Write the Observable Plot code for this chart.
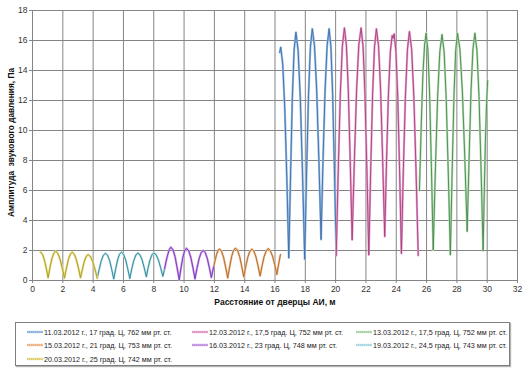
<!DOCTYPE html>
<html><head><meta charset="utf-8">
<script src="https://cdn.jsdelivr.net/npm/d3@7"></script>
<script src="https://cdn.jsdelivr.net/npm/@observablehq/plot@0.6"></script>
<style>
body{margin:0;background:#fff;font-family:Arial,"Liberation Sans",sans-serif;}
#chart{position:absolute;left:0;top:0;}
#legend{position:absolute;left:15px;top:322px;width:495px;height:44px;border:1px solid #7f7f7f;box-shadow:1px 1px 1px #b0b0b0;box-sizing:border-box;background:#fff;}
.item{position:absolute;font-size:7.2px;color:#222;white-space:nowrap;display:flex;align-items:center;height:10px;}
.item svg{margin-right:1px;}
</style></head><body>
<div id="chart"></div><div id="legend"></div>
<script>
const xTicks = [0,2,4,6,8,10,12,14,16,18,20,22,24,26,28,30,32];
const yTicks = [0,2,4,6,8,10,12,14,16,18];
const seriesNames = [
  "11.03.2012 г., 17 град. Ц, 762 мм рт. ст.",
  "12.03.2012 г., 17,5 град. Ц, 752 мм рт. ст.",
  "13.03.2012 г., 17,5 град. Ц, 752 мм рт. ст.",
  "15.03.2012 г., 21 град. Ц, 753 мм рт. ст.",
  "16.03.2012 г., 23 град. Ц, 748 мм рт. ст.",
  "19.03.2012 г., 24,5 град. Ц, 743 мм рт. ст.",
  "20.03.2012 г., 25 град. Ц, 742 мм рт. ст."
];
const coreColors  = ["#3c6da6","#a3407b","#4a874c","#a5662a","#7636b3","#2d7c8c","#a29c24"];
const lightColors = ["#9cc0e8","#eba2d0","#b6dfb6","#f5c296","#cf9fee","#b9e3ee","#ecdc86"];

const s1103 = [[16.31,15.2],[16.38,15.55],[16.51,14.43],[16.645,11.48],[16.78,6.84],[16.91,1.5],[17.03,7.22],[17.145,12.19],[17.26,15.35],[17.38,16.55],[17.525,15.34],[17.67,12.16],[17.815,7.17],[17.96,1.42],[18.085,7.26],[18.21,12.33],[18.335,15.55],[18.46,16.78],[18.605,15.66],[18.75,12.71],[18.895,8.07],[19.04,2.73],[19.17,8.07],[19.305,12.71],[19.44,15.66],[19.57,16.78],[19.69,15.57],[19.805,12.40],[19.92,7.41],[20.04,1.67]];
const s1203 = [[20.04,1.67],[20.175,7.43],[20.31,12.44],[20.445,15.63],[20.58,16.84],[20.71,15.71],[20.835,12.74],[20.96,8.08],[21.09,2.71],[21.24,8.08],[21.385,12.74],[21.53,15.71],[21.68,16.84],[21.81,15.63],[21.935,12.45],[22.06,7.45],[22.19,1.7],[22.315,7.43],[22.44,12.41],[22.565,15.57],[22.69,16.78],[22.83,15.67],[22.965,12.76],[23.10,8.19],[23.24,2.93],[23.36,8.02],[23.485,12.44],[23.61,15.26],[23.73,16.33],[23.79,16.15],[23.86,16.44],[23.98,15.27],[24.10,12.19],[24.22,7.36],[24.34,1.8],[24.47,7.42],[24.605,12.31],[24.74,15.42],[24.87,16.6],[25.015,15.41],[25.16,12.27],[25.305,7.34],[25.45,1.67]];
const s1303 = [[25.53,6.0],[25.65,10.4],[25.76,13.8],[25.87,15.7],[25.97,16.49],[26.09,15.33],[26.205,12.30],[26.32,7.53],[26.44,2.04],[26.585,7.50],[26.73,12.24],[26.875,15.25],[27.02,16.4],[27.16,15.22],[27.295,12.14],[27.43,7.29],[27.57,1.7],[27.69,7.32],[27.805,12.2],[27.92,15.31],[28.04,16.49],[28.2,15.43],[28.36,12.66],[28.52,8.29],[28.68,3.27],[28.81,8.29],[28.935,12.66],[29.06,15.43],[29.19,16.49],[29.325,15.33],[29.46,12.28],[29.595,7.49],[29.73,1.98],[29.81,6.0],[29.88,9.2],[29.96,11.8],[30.03,13.33]];
const s1503 = [[11.95,0.9],[12.05,1.35],[12.15,1.75],[12.24,2.0],[12.33,2.11],[12.47,1.95],[12.605,1.55],[12.74,0.91],[12.88,0.17],[13.01,0.93],[13.135,1.58],[13.26,2.0],[13.39,2.16],[13.53,2.01],[13.665,1.60],[13.80,0.97],[13.94,0.24],[14.07,0.94],[14.205,1.55],[14.34,1.94],[14.47,2.09],[14.61,1.95],[14.745,1.57],[14.88,0.98],[15.02,0.3],[15.15,1.0],[15.285,1.6],[15.42,1.98],[15.55,2.13],[15.69,1.99],[15.835,1.63],[15.98,1.06],[16.12,0.4],[16.2,0.85],[16.28,1.3],[16.36,1.73]];
const s1603 = [[8.7,0.7],[8.82,1.3],[8.93,1.75],[9.03,2.07],[9.13,2.22],[9.27,2.05],[9.405,1.59],[9.54,0.87],[9.68,0.05],[9.80,0.85],[9.92,1.54],[10.04,1.98],[10.16,2.15],[10.30,1.99],[10.44,1.56],[10.58,0.89],[10.72,0.11],[10.855,0.83],[10.99,1.45],[11.125,1.85],[11.26,2.0],[11.395,1.86],[11.53,1.48],[11.665,0.88],[11.8,0.2],[11.95,0.9]];
const s1903 = [[4.27,0.16],[4.41,0.79],[4.545,1.34],[4.68,1.69],[4.82,1.82],[4.955,1.68],[5.09,1.32],[5.225,0.75],[5.36,0.1],[5.49,0.78],[5.615,1.37],[5.74,1.75],[5.87,1.89],[6.01,1.75],[6.145,1.38],[6.28,0.80],[6.42,0.13],[6.55,0.78],[6.685,1.34],[6.82,1.70],[6.95,1.84],[7.09,1.71],[7.23,1.38],[7.37,0.85],[7.51,0.25],[7.63,0.85],[7.755,1.38],[7.88,1.71],[8.0,1.84],[8.15,1.72],[8.3,1.39],[8.45,0.87],[8.6,0.28],[8.7,0.7]];
const s2003 = [[0.53,1.89],[0.655,1.75],[0.78,1.39],[0.905,0.83],[1.03,0.18],[1.15,0.85],[1.275,1.44],[1.40,1.81],[1.52,1.95],[1.67,1.81],[1.815,1.43],[1.96,0.84],[2.11,0.16],[2.24,0.82],[2.365,1.39],[2.49,1.75],[2.62,1.89],[2.76,1.75],[2.895,1.39],[3.03,0.83],[3.17,0.18],[3.295,0.77],[3.42,1.28],[3.545,1.61],[3.67,1.73],[3.82,1.60],[3.97,1.27],[4.12,0.76],[4.27,0.16]];

const seriesValues = [s1103, s1203, s1303, s1503, s1603, s1903, s2003];
const xLabel = "Расстояние от дверцы АИ, м";
const yLabel = "Амплитуда  звукового давления, Па";

const lineMarks = [];
seriesValues.forEach((pts, i) => {
  lineMarks.push(Plot.line(pts, {x: d => d[0], y: d => d[1], stroke: lightColors[i], strokeWidth: 2.2, strokeLinejoin: "round"}));
  lineMarks.push(Plot.line(pts, {x: d => d[0], y: d => d[1], stroke: coreColors[i], strokeWidth: 0.9, strokeLinejoin: "round"}));
});

const chart = Plot.plot({
  width: 524, height: 312,
  marginLeft: 32, marginRight: 7, marginTop: 10, marginBottom: 32,
  style: {fontFamily: "Arial, 'Liberation Sans', sans-serif", fontSize: "8.5px", color: "#333", background: "white"},
  x: {domain: [0, 32]},
  y: {domain: [0, 18]},
  marks: [
    Plot.gridX(xTicks, {stroke: "#858585", strokeOpacity: 1, strokeWidth: 1}),
    Plot.gridY(yTicks, {stroke: "#858585", strokeOpacity: 1, strokeWidth: 1}),
    Plot.frame({stroke: "#858585"}),
    ...lineMarks,
    Plot.axisX({ticks: xTicks, tickSize: 3, tickPadding: 2, stroke: "#858585", label: null}),
    Plot.axisY({ticks: yTicks, tickSize: 3, tickPadding: 2, stroke: "#858585", label: null}),
    Plot.text([xLabel], {frameAnchor: "bottom", dy: 24, fontWeight: "bold", fontSize: 8.5, fill: "#111"}),
    Plot.text([yLabel], {frameAnchor: "left", rotate: -90, textAnchor: "middle", dx: -21, dy: -3, fontWeight: "bold", fontSize: 8.3, fill: "#111"})
  ]
});
document.getElementById("chart").appendChild(chart);

const legend = document.getElementById("legend");
const colLeft = [11, 176, 340];
const rowTop = [4, 17, 31];
seriesNames.forEach((name, i) => {
  const div = document.createElement("div");
  div.className = "item";
  div.style.left = colLeft[i % 3] + "px";
  div.style.top = rowTop[Math.floor(i / 3)] + "px";
  div.innerHTML = `<svg width="16" height="6"><line x1="0" y1="3" x2="16" y2="3" stroke="${lightColors[i]}" stroke-width="2.4"/><line x1="0" y1="3" x2="16" y2="3" stroke="${lightColors[i]}" stroke-width="1" stroke-dasharray="1 1" style="filter:brightness(0.85)"/></svg><span>${name}</span>`;
  legend.appendChild(div);
});
</script></body></html>
